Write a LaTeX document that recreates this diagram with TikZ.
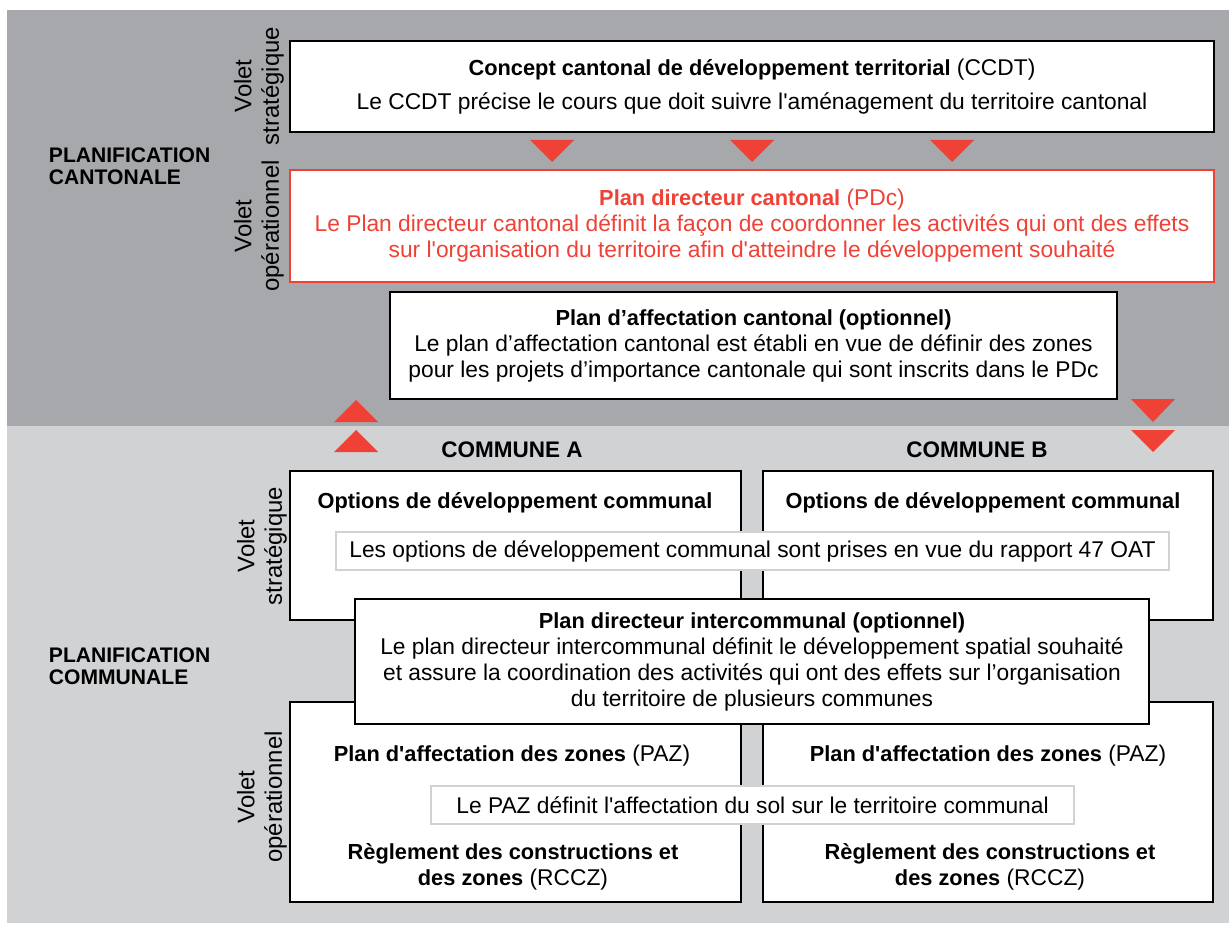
\documentclass[tikz,border=0pt]{standalone}
\usepackage{fontspec}
\setmainfont{Liberation Sans}[Ligatures=TeXOff]
\usetikzlibrary{positioning}

\definecolor{bgdark}{HTML}{A7A8AB}
\definecolor{bglight}{HTML}{D1D2D4}
\definecolor{pdcred}{HTML}{EF4136}

\newcommand{\ttl}[1]{{\fontsize{15.5}{18.5}\selectfont\bfseries #1}}

\begin{document}
\begin{tikzpicture}[
    x=0.025cm, y=-0.025cm,
    font=\fontsize{16.2}{18.5}\selectfont,
    box/.style 2 args={draw, fill=white, line width=1.6pt, inner sep=0pt, align=center,
      minimum width=#1*0.025cm, minimum height=#2*0.025cm},
    descbox/.style 2 args={draw=bglight, fill=white, line width=1.4pt, inner sep=0pt,
      minimum width=#1*0.025cm, minimum height=#2*0.025cm},
    side/.style={rotate=90, align=center, font=\fontsize{17}{19.5}\selectfont},
    head/.style={align=left, anchor=west, font=\bfseries\fontsize{15}{15.8}\selectfont},
    commune/.style={font=\bfseries\fontsize{16}{18}\selectfont},
    tri/.style={fill=pdcred},
  ]
    \useasboundingbox (0,0) rectangle (1229,925);
    \fill[bgdark] (7,10) rectangle (1229,426);
    \fill[bglight] (7,426) rectangle (1229,923);

    % planification cantonale
    \node[head] (cant) at (44,166) {PLANIFICATION\\CANTONALE};
    \node[side] (vsc) at (259,86) {Volet\\stratégique};
    \node[side] (voc) at (259,226) {Volet\\opérationnel};

    \node[box={924}{91}] (ccdt) at (752,86.5)
      {\ttl{Concept cantonal de développement territorial} (CCDT)\\[6pt]
       Le CCDT précise le cours que doit suivre l'aménagement du territoire cantonal};
    \foreach \xx in {552,752,952}
      \fill[tri] (\xx-22,140) -- (\xx+22,140) -- (\xx,162) -- cycle;
    \node[box={924}{112}, draw=pdcred, text=pdcred] (pdc) at (752,226)
      {\ttl{Plan directeur cantonal} (PDc)\\
       Le Plan directeur cantonal définit la façon de coordonner les activités qui ont des effets\\
       sur l'organisation du territoire afin d'atteindre le développement souhaité};
    \node[box={727}{107}] (pac) at (753.5,345.5)
      {\ttl{Plan d’affectation cantonal (optionnel)}\\
       Le plan d’affectation cantonal est établi en vue de définir des zones\\
       pour les projets d’importance cantonale qui sont inscrits dans le PDc};

    % fleches
    \fill[tri] (334,422) -- (378,422) -- (356,400) -- cycle;
    \fill[tri] (334,452) -- (378,452) -- (356,430) -- cycle;
    \fill[tri] (1131,399) -- (1175,399) -- (1153,422) -- cycle;
    \fill[tri] (1131,430) -- (1175,430) -- (1153,452) -- cycle;

    % planification communale
    \node[head] (comm) at (44,666) {PLANIFICATION\\COMMUNALE};
    \node[commune] (coma) at (512,450) {COMMUNE A};
    \node[commune] (comb) at (977,450) {COMMUNE B};
    \node[side] (vscom) at (262,546) {Volet\\stratégique};
    \node[side] (vocom) at (262,797) {Volet\\opérationnel};

    \node[box={451}{149}] (odca) at (515.5,545.5) {};
    \node[box={450}{149}] (odcb) at (988,545.5) {};
    \node (titodca) at (515,503) {\ttl{Options de développement communal}};
    \node (titodcb) at (983,503) {\ttl{Options de développement communal}};
    \node[descbox={833}{38}] (odc) at (752.5,551)
      {Les options de développement communal sont prises en vue du rapport 47 OAT};

    \node[box={451}{200}] (paza) at (515.5,802) {};
    \node[box={450}{200}] (pazb) at (988,802) {};
    \node (titpaza) at (512,756) {\ttl{Plan d'affectation des zones} (PAZ)};
    \node (titpazb) at (988,756) {\ttl{Plan d'affectation des zones} (PAZ)};
    \node[descbox={643}{38}] (paz) at (752.5,805)
      {Le PAZ définit l'affectation du sol sur le territoire communal};
    \node[align=center] (rcca) at (513,867)
      {\ttl{Règlement des constructions et}\\\ttl{des zones} (RCCZ)};
    \node[align=center] (rccb) at (990,867)
      {\ttl{Règlement des constructions et}\\\ttl{des zones} (RCCZ)};

    \node[box={794}{125}] (pdi) at (752,661.5)
      {\ttl{Plan directeur intercommunal (optionnel)}\\
       Le plan directeur intercommunal définit le développement spatial souhaité\\
       et assure la coordination des activités qui ont des effets sur l’organisation\\
       du territoire de plusieurs communes};
  \end{tikzpicture}
\end{document}
